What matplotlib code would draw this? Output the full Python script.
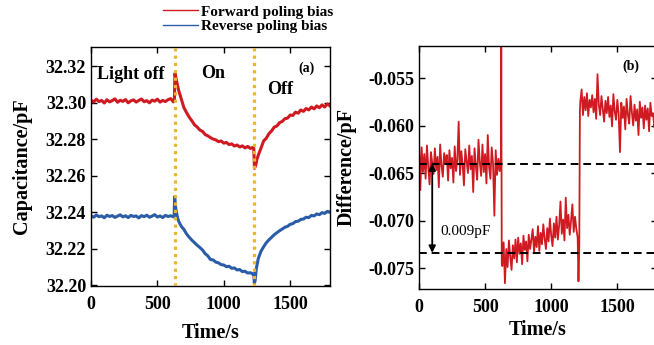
import numpy as np
import matplotlib
matplotlib.use('Agg')
import matplotlib.pyplot as plt

plt.rcParams['font.family'] = ['Liberation Serif', 'DejaVu Serif']
plt.rcParams['font.weight'] = 'bold'
plt.rcParams['axes.labelweight'] = 'bold'
plt.rcParams['axes.unicode_minus'] = False

# ---- panel (a): capacitance, pF ----
fwd_t = list(range(0, 621, 20)) + [
    628, 632, 640, 650, 660, 680, 700, 720, 740, 760, 780, 800, 820, 840, 860, 880,
    900, 920, 940, 960, 980, 1000, 1020, 1040, 1060, 1080, 1100, 1120, 1140, 1160,
    1180, 1200, 1220, 1226, 1231, 1240, 1250, 1260, 1280, 1300, 1320, 1340, 1360,
    1380, 1400, 1420, 1440, 1460, 1480, 1500, 1520, 1540, 1560, 1580, 1600, 1620,
    1640, 1660, 1680, 1700, 1720, 1740, 1760, 1780, 1800]
fwd_c = [
    32.3014, 32.3003, 32.3019, 32.3006, 32.3012, 32.2998, 32.3016, 32.3004, 32.3011, 32.3021,
    32.3002, 32.3013, 32.3007, 32.3017, 32.2999, 32.3010, 32.3015, 32.3003, 32.3012, 32.3020,
    32.3005, 32.3011, 32.2999, 32.3014, 32.3008, 32.3019, 32.3003, 32.3012, 32.3006, 32.3016,
    32.3022, 32.3004,
    32.3010, 32.3160, 32.3135, 32.3100, 32.3068, 32.3020, 32.2972, 32.2945, 32.2920, 32.2900,
    32.2878, 32.2866, 32.2850, 32.2842, 32.2825, 32.2818, 32.2808, 32.2800, 32.2796, 32.2786,
    32.2790, 32.2778, 32.2782, 32.2770, 32.2774, 32.2762, 32.2768, 32.2757, 32.2763, 32.2752,
    32.2760, 32.2749, 32.2755, 32.2750, 32.2640, 32.2655, 32.2690, 32.2712, 32.2750, 32.2790,
    32.2805, 32.2830, 32.2845, 32.2866, 32.2872, 32.2890, 32.2897, 32.2912, 32.2915, 32.2932,
    32.2930, 32.2948, 32.2942, 32.2960, 32.2952, 32.2968, 32.2960, 32.2976, 32.2966, 32.2982,
    32.2972, 32.2988, 32.2976, 32.2993, 32.2982]

rev_t = list(range(0, 621, 20)) + [
    626, 630, 638, 650, 660, 680, 700, 720, 740, 760, 780, 800, 820, 840, 860, 880,
    900, 920, 940, 960, 980, 1000, 1020, 1040, 1060, 1080, 1100, 1120, 1140, 1160,
    1180, 1200, 1220, 1226, 1230, 1236, 1245, 1260, 1280, 1300, 1320, 1340, 1360,
    1380, 1400, 1420, 1440, 1460, 1480, 1500, 1520, 1540, 1560, 1580, 1600, 1620,
    1640, 1660, 1680, 1700, 1720, 1740, 1760, 1780, 1800]
rev_c = [
    32.2380, 32.2372, 32.2384, 32.2375, 32.2379, 32.2369, 32.2383, 32.2376, 32.2381, 32.2371,
    32.2378, 32.2385, 32.2374, 32.2380, 32.2370, 32.2382, 32.2376, 32.2379, 32.2368, 32.2381,
    32.2375, 32.2383, 32.2372, 32.2378, 32.2386, 32.2373, 32.2379, 32.2370, 32.2382, 32.2376,
    32.2380, 32.2374,
    32.2378, 32.2485, 32.2420, 32.2375, 32.2350, 32.2322, 32.2305, 32.2280, 32.2262, 32.2246,
    32.2232, 32.2218, 32.2206, 32.2192, 32.2172, 32.2160, 32.2140, 32.2138, 32.2126, 32.2122,
    32.2112, 32.2110, 32.2101, 32.2103, 32.2092, 32.2094, 32.2083, 32.2085, 32.2074, 32.2076,
    32.2066, 32.2068, 32.2060, 32.2062, 32.2010, 32.2025, 32.2090, 32.2146, 32.2185, 32.2210,
    32.2232, 32.2248, 32.2262, 32.2276, 32.2287, 32.2298, 32.2307, 32.2317, 32.2322, 32.2333,
    32.2337, 32.2348, 32.2350, 32.2360, 32.2362, 32.2372, 32.2370, 32.2382, 32.2379, 32.2390,
    32.2386, 32.2397, 32.2393, 32.2404, 32.2400]

light_switch = [630, 1228]

# ---- panel (b): difference, in fF (1e-3 pF) ----
diff_t = list(range(0, 621, 10)) + [622, 626] + list(range(630, 1201, 10)) \
    + [1206, 1212, 1217] + list(range(1220, 1791, 10))
diff_ff = [
    -61.5, -66.8, -62.3, -64.9, -63.0, -65.6, -62.1, -64.3, -66.2, -62.8,
    -63.9, -65.1, -62.4, -64.7, -63.3, -66.5, -62.0, -64.2, -65.4, -62.9,
    -64.0, -63.1, -65.8, -62.6, -64.5, -63.4, -66.0, -62.2, -64.8, -63.6,
    -59.6, -65.2, -62.7, -64.1, -66.3, -62.5, -63.8, -65.0, -62.1, -64.6,
    -63.2, -67.0, -62.4, -64.3, -65.7, -61.5, -63.9, -65.3, -62.0, -64.9,
    -63.0, -66.1, -61.0, -64.4, -65.6, -62.3, -64.0, -69.5, -62.6, -65.2,
    -63.5, -64.8, -63.2,
    -51.6, -74.5,
    -74.8, -72.3, -76.6, -73.0, -74.9, -72.1, -73.8, -75.2, -72.6, -74.0,
    -72.0, -74.4, -71.8, -73.5, -72.4, -74.6, -71.6, -73.1, -72.2, -74.3,
    -71.5, -73.0, -72.0, -70.9, -73.4, -71.7, -72.8, -70.6, -73.2, -71.3,
    -72.5, -70.4, -71.9, -73.0, -70.8, -72.2, -69.8, -71.6, -72.7, -70.3,
    -71.8, -69.6, -72.0, -70.5, -68.0, -71.4, -69.9, -72.1, -67.6, -70.8,
    -69.4, -71.5, -70.0, -68.3, -71.2, -69.6, -70.9, -71.8,
    -76.4, -73.0, -58.5,
    -57.5, -56.2, -58.9, -57.0, -58.4, -56.6, -59.0, -57.3, -58.1, -56.8,
    -58.6, -57.2, -59.3, -54.6, -57.8, -58.9, -56.9, -58.2, -59.6, -57.4,
    -58.7, -57.0, -59.1, -57.9, -60.1, -56.7, -58.5, -59.4, -57.3, -58.8,
    -62.8, -57.6, -59.2, -58.0, -60.4, -57.2, -58.9, -59.8, -56.9, -58.6,
    -60.0, -57.8, -59.5, -58.3, -61.0, -57.5, -59.2, -58.1, -60.3, -57.9,
    -59.4, -58.2, -60.6, -57.6, -59.0, -58.7, -60.2, -58.4]
diff_levels = [-0.0640, -0.0734]

red = '#d01a22'
blue = '#2a5ca8'
gold = '#ecb431'

fig = plt.figure(figsize=(6.54, 3.45), dpi=100)
W, H = 654.0, 345.0
ax1 = fig.add_axes([91 / W, (H - 286) / H, (330 - 91) / W, (286 - 47) / H])
ax2 = fig.add_axes([419 / W, (H - 289) / H, (657 - 419) / W, (289 - 46) / H])

# panel (a)
l1, = ax1.plot(fwd_t, fwd_c, color=red, lw=2.2, label='Forward poling bias')
l2, = ax1.plot(rev_t, rev_c, color=blue, lw=2.2, label='Reverse poling bias')
for x in light_switch:
    ax1.axvline(x, color=gold, lw=2.3, ls=(0, (1, 1.3)), zorder=3)
ax1.set_xlim(0, 1800)
ax1.set_ylim(32.1995, 32.3305)
ax1.set_yticks(np.arange(32.20, 32.321, 0.02))
ax1.yaxis.set_major_formatter(plt.FormatStrFormatter('%.2f'))
ax1.set_xticks([0, 500, 1000, 1500])
ax1.text(45, 32.3155, 'Light off', fontsize=13, va='center', ha='left')
ax1.text(917, 32.316, 'On', fontsize=13, va='center', ha='center')
ax1.text(1421, 32.307, 'Off', fontsize=13, va='center', ha='center')
ax1.text(1624, 32.319, '(a)', fontsize=10, va='center', ha='center')
ax1.set_xlabel('Time/s', fontsize=14.5)
ax1.set_ylabel('Capacitance/pF', fontsize=14.5)
ax1.xaxis.set_label_coords(0.5, -(333 - 286) / 239.0)
ax1.xaxis.label.set_va('center')
ax1.yaxis.set_label_coords(-(91 - 22) / 239.0, 0.5)
ax1.yaxis.label.set_va('center')

ax1.legend([l1, l2], ['Forward poling bias', 'Reverse poling bias'],
           loc='upper left', bbox_to_anchor=(163 / W, 1 - 5 / H),
           bbox_transform=fig.transFigure, frameon=False, fontsize=11,
           handlelength=2.3, handletextpad=0.2, labelspacing=0.05,
           borderpad=0, borderaxespad=0)
for h in ax1.get_legend().get_lines():
    h.set_linewidth(1.0)

# panel (b)
ax2.plot(diff_t, np.array(diff_ff) / 1000.0, color=red, lw=1.3)
for y in diff_levels:
    ax2.axhline(y, color='black', lw=1.4, ls=(0, (4, 2.5)))
ax2.annotate('', xy=(100, diff_levels[1]), xytext=(100, diff_levels[0]),
             arrowprops=dict(arrowstyle='<|-|>', color='black', lw=1.3,
                             mutation_scale=10, shrinkA=0, shrinkB=0))
ax2.text(160, -0.0712, '0.009pF', fontsize=11, fontweight='normal',
         va='center', ha='left')
ax2.text(1604, -0.05374, '(b)', fontsize=10, va='center', ha='center')
ax2.set_xlim(0, 1800)
ax2.set_ylim(-0.07721, -0.05163)
ax2.set_yticks([-0.075, -0.070, -0.065, -0.060, -0.055])
ax2.yaxis.set_major_formatter(plt.FormatStrFormatter('%.3f'))
ax2.set_xticks([0, 500, 1000, 1500])
ax2.set_xlabel('Time/s', fontsize=14.5)
ax2.set_ylabel('Difference/pF', fontsize=14.5)
ax2.xaxis.set_label_coords(0.5, -(330 - 289) / 243.0)
ax2.xaxis.label.set_va('center')
ax2.yaxis.set_label_coords(-(419 - 347) / 238.0, 0.5)
ax2.yaxis.label.set_va('center')

for ax in (ax1, ax2):
    ax.tick_params(direction='in', top=True, right=True, length=4, width=1,
                   labelsize=13)
    ax.tick_params(axis='x', pad=7)
    ax.tick_params(axis='y', pad=3.5)
    for s in ax.spines.values():
        s.set_linewidth(1.0)

fig.savefig('out.png', dpi=100)
